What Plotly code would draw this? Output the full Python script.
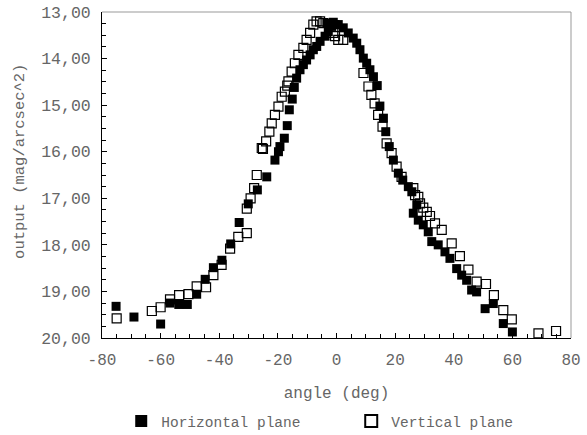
import plotly.graph_objects as go

# Horizontal plane (filled squares)
h_angle = [-75.2, -69.1, -60.0, -56.8, -53.8, -50.9, -47.7, -44.8, -42.0, -39.1,
           -36.1, -33.2, -30.1, -27.0, -23.8, -21.0, -19.8, -19.3, -17.8, -16.8,
           -16.1, -15.1, -14.4, -13.6, -12.45, -11.3, -10.2, -9.0, -7.9, -6.75,
           -5.6, -3.9, -3.3, -2.8, -1.6, -1.1, -0.5, 0.6, 2.3, 4.0,
           5.7, 6.9, 8.0, 9.15, 10.3, 11.4, 12.6, 13.9, 14.8, 16.0,
           16.8, 18.0, 19.4, 21.1, 22.6, 24.5, 25.7, 26.2, 27.4, 27.9,
           29.6, 31.3, 32.5, 34.7, 37.0, 38.7, 41.0, 42.7, 44.4, 46.1,
           47.8, 50.7, 53.5, 56.9, 60.0]
h_output = [19.32, 19.55, 19.70, 19.25, 19.28, 19.28, 19.06, 18.74, 18.49, 18.33,
            17.98, 17.52, 17.12, 16.82, 16.54, 16.18, 16.00, 15.89, 15.71, 15.44,
            15.10, 14.87, 14.62, 14.42, 14.24, 14.13, 14.03, 13.92, 13.81, 13.74,
            13.63, 13.52, 13.24, 13.42, 13.31, 13.22, 13.27, 13.27, 13.34, 13.45,
            13.56, 13.67, 13.81, 13.99, 14.10, 14.24, 14.39, 14.58, 15.02, 15.28,
            15.57, 15.89, 16.18, 16.46, 16.61, 16.75, 16.86, 17.32, 17.14, 17.47,
            17.57, 17.72, 17.93, 18.00, 18.15, 18.29, 18.51, 18.65, 18.76, 18.97,
            19.01, 19.37, 19.26, 19.69, 19.87]

# Vertical plane (open squares)
v_angle = [-75.0, -63.0, -60.0, -56.8, -53.7, -50.5, -47.7, -44.5, -42.0, -39.2,
           -36.3, -33.5, -30.6, -30.6, -29.3, -28.1, -27.2, -25.5, -25.1, -24.0,
           -22.9, -22.1, -21.0, -19.8, -18.7, -17.6, -16.8, -16.4, -15.3, -14.2,
           -13.0, -11.3, -10.2, -9.0, -7.9, -6.8, -5.6, -4.5, -1.1, -0.5,
           0.6, 2.3, 9.2, 10.9, 11.9, 13.0, 14.2, 15.7, 17.1, 18.8,
           20.5, 22.2, 26.2, 26.8, 27.9, 28.5, 29.6, 30.8, 31.9, 33.6,
           35.9, 39.3, 42.1, 45.0, 47.8, 51.0, 53.7, 56.9, 59.8, 68.9,
           74.9]
v_output = [19.58, 19.42, 19.34, 19.17, 19.08, 19.06, 18.89, 18.91, 18.65, 18.43,
            18.08, 17.83, 17.75, 17.22, 17.00, 16.78, 16.50, 15.92, 15.94, 15.78,
            15.57, 15.39, 15.21, 15.03, 14.82, 14.71, 14.58, 14.49, 14.28, 14.10,
            13.92, 13.77, 13.60, 13.45, 13.27, 13.20, 13.20, 13.24, 13.45, 13.52,
            13.60, 13.60, 14.31, 14.60, 14.78, 14.96, 15.21, 15.46, 15.82, 16.03,
            16.32, 16.54, 16.78, 16.93, 16.97, 17.11, 17.20, 17.29, 17.38, 17.54,
            17.68, 17.97, 18.24, 18.53, 18.79, 18.84, 19.08, 19.40, 19.60, 19.90,
            19.85]

x_tickvals = [-80, -60, -40, -20, 0, 20, 40, 60, 80]
x_ticktext = ["-80", "-60", "-40", "-20", "0", "20", "40", "60", "80"]
y_tickvals = [13, 14, 15, 16, 17, 18, 19, 20]
y_ticktext = ["13,00", "14,00", "15,00", "16,00", "17,00", "18,00", "19,00", "20,00"]

FONT = "Liberation Mono, Courier New, monospace"
TXT = "#666666"

fig = go.Figure()
fig.add_trace(go.Scatter(
    x=h_angle, y=h_output, mode="markers", name="Horizontal plane",
    legendwidth=185,
    marker=dict(symbol="square", size=9, color="black", line=dict(width=0)),
))
fig.add_trace(go.Scatter(
    x=v_angle, y=v_output, mode="markers", name="Vertical plane",
    legendwidth=130,
    marker=dict(symbol="square-open", size=9, color="black", line=dict(width=1.2)),
))

fig.update_layout(
    width=587, height=435,
    margin=dict(l=102, r=16, t=12, b=97, autoexpand=False),
    paper_bgcolor="white", plot_bgcolor="white",
    font=dict(family=FONT, size=16, color=TXT),
    showlegend=True,
    legend=dict(
        orientation="h", x=0.041, y=-0.2546, xanchor="left", yanchor="middle",
        font=dict(family=FONT, size=14.5, color=TXT),
        entrywidthmode="pixels",
        bgcolor="rgba(0,0,0,0)", itemsizing="constant",
    ),
    xaxis=dict(
        range=[-80, 80], tickmode="array", tickvals=x_tickvals, ticktext=x_ticktext,
        showgrid=False, zeroline=False, showline=True, linecolor="black", linewidth=1,
        ticks="inside", ticklen=5, tickcolor="black", tickwidth=1,
        ticklabelstandoff=7, automargin=False,
        minor=dict(tickmode="linear", tick0=-80, dtick=5, ticks="inside", ticklen=4,
                   tickcolor="black", showgrid=False),
        title=dict(text="angle (deg)", standoff=17, font=dict(size=16, color=TXT)),
        tickfont=dict(size=16, color=TXT),
        fixedrange=True,
    ),
    yaxis=dict(
        range=[20, 13], tickmode="array", tickvals=y_tickvals, ticktext=y_ticktext,
        showgrid=False, zeroline=False, showline=True, linecolor="black", linewidth=1,
        ticks="inside", ticklen=5, tickcolor="black", tickwidth=1,
        ticklabelstandoff=7, automargin=False,
        minor=dict(tickmode="linear", tick0=13, dtick=0.25, ticks="inside", ticklen=4,
                   tickcolor="black", showgrid=False),
        tickfont=dict(size=16.5, color=TXT),
        fixedrange=True,
    ),
    shapes=[
        dict(type="line", xref="paper", yref="paper", x0=0, x1=1, y0=1, y1=1,
             line=dict(color="#999999", width=1), layer="below"),
        dict(type="line", xref="paper", yref="paper", x0=1, x1=1, y0=0, y1=1,
             line=dict(color="#999999", width=1), layer="below"),
    ],
    annotations=[
        dict(text="output (mag/arcsec^2)", textangle=-90, xref="paper", yref="paper",
             x=-0.175, y=0.543, xanchor="center", yanchor="middle", showarrow=False,
             font=dict(family=FONT, size=15.5, color=TXT)),
    ],
)

fig.write_html(
    "out.html",
    config={"displayModeBar": False, "staticPlot": True},
    post_script="document.body.style.margin='0px';document.body.style.overflow='hidden';",
)
